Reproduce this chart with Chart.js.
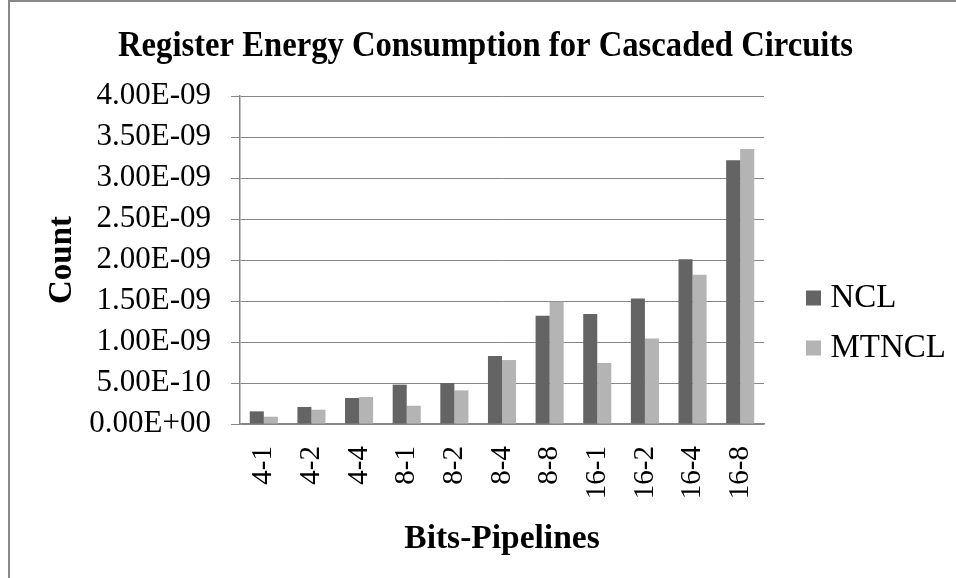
<!DOCTYPE html>
<html>
<head>
<meta charset="utf-8">
<script src="https://cdn.jsdelivr.net/npm/chart.js@4.4.1/dist/chart.umd.min.js"></script>
<style>
  html, body { margin: 0; padding: 0; background: #fff; }
  #wrap { position: relative; width: 956px; height: 578px; overflow: hidden; }
  #frame { position: absolute; left: 8px; top: 0; width: 990px; height: 600px;
           border-left: 2px solid #888; border-top: 2px solid #888; box-sizing: border-box; pointer-events: none; }
  canvas { position: absolute; left: 0; top: 0; }
</style>
</head>
<body>
<div id="wrap">
  <canvas id="chart" width="956" height="578"></canvas>
  <div id="frame"></div>
</div>
<script>
// Bits-Pipelines configurations
const categories = ['4-1', '4-2', '4-4', '8-1', '8-2', '8-4', '8-8', '16-1', '16-2', '16-4', '16-8'];
// Register energy per configuration
const nclValues   = [0.154e-9, 0.207e-9, 0.317e-9, 0.480e-9, 0.500e-9, 0.830e-9, 1.320e-9, 1.340e-9, 1.530e-9, 2.010e-9, 3.215e-9];
const mtnclValues = [0.089e-9, 0.174e-9, 0.329e-9, 0.223e-9, 0.410e-9, 0.780e-9, 1.490e-9, 0.744e-9, 1.044e-9, 1.820e-9, 3.354e-9];
const seriesNames = ['NCL', 'MTNCL'];
const yMin = 0, yMax = 4e-9, yStep = 0.5e-9;

const SERIF = "'Liberation Serif', 'Times New Roman', serif";
const GRID = '#868686';

// Excel-style scientific notation: 3.50E-09, 0.00E+00
function sci(v) {
  if (Math.abs(v) < 1e-20) return '0.00E+00';
  const parts = v.toExponential(2).split('e');
  const e = parseInt(parts[1], 10);
  return parts[0] + 'E' + (e < 0 ? '-' : '+') + String(Math.abs(e)).padStart(2, '0');
}

// Fixed boxes: legend column on the right, title band across the top
const boxLayout = {
  id: 'boxLayout',
  afterInit(chart) {
    const lg = chart.legend;
    const fit = lg.fit.bind(lg);
    lg.fit = function () { fit(); this.width = 192; };
  },
  afterLayout(chart) {
    const lg = chart.legend;
    const pad = lg.options.labels.padding;
    const h = lg.height;
    // first legend row starts at top + pad
    lg.left = 813 - pad; lg.right = lg.left + lg.width;
    lg.top = 281.5 - pad; lg.bottom = lg.top + h;
    const t = chart.titleBlock;
    t.left = 118; t.right = 853;
  }
};

const bg = {
  id: 'bg',
  beforeDraw(chart) {
    const c = chart.ctx;
    c.save(); c.fillStyle = '#fff'; c.fillRect(0, 0, chart.width, chart.height); c.restore();
  }
};

new Chart(document.getElementById('chart'), {
  type: 'bar',
  data: {
    labels: categories,
    datasets: [
      { label: seriesNames[0], data: nclValues, backgroundColor: '#646464', borderWidth: 0 },
      { label: seriesNames[1], data: mtnclValues, backgroundColor: '#b4b4b4', borderWidth: 0 }
    ]
  },
  options: {
    responsive: false,
    animation: false,
    devicePixelRatio: 1,
    layout: { padding: 0 },
    datasets: { bar: { categoryPercentage: 0.59, barPercentage: 1.0 } },
    plugins: {
      title: {
        display: true,
        fullSize: true,
        text: 'Register Energy Consumption for Cascaded Circuits',
        color: '#000',
        font: { family: SERIF, size: 36, weight: 'bold', lineHeight: 1.2 },
        padding: { top: 25.4, bottom: 27.4 }
      },
      legend: {
        display: true,
        position: 'right',
        align: 'start',
        labels: {
          color: '#000',
          font: { family: SERIF, size: 33, lineHeight: 1.2 },
          usePointStyle: true,
          pointStyle: 'rect',
          boxWidth: 1,
          boxHeight: 15,
          padding: 17
        }
      },
      tooltip: { enabled: false }
    },
    scales: {
      x: {
        grid: { display: false, drawTicks: false },
        border: { display: true, color: GRID, width: 1.5 },
        ticks: {
          color: '#000',
          font: { family: SERIF, size: 29 },
          minRotation: 90, maxRotation: 90,
          padding: 22,
          autoSkip: false
        },
        title: {
          display: true,
          text: 'Bits-Pipelines',
          color: '#000',
          font: { family: SERIF, size: 33.5, weight: 'bold', lineHeight: 1.2 },
          padding: { top: 0, bottom: 19 }
        },
        afterFit(scale) { scale.height = 154; }
      },
      y: {
        min: yMin, max: yMax,
        grid: { color: GRID, lineWidth: 1, drawTicks: true, tickLength: 9, tickColor: GRID },
        border: { display: true, color: GRID, width: 1.5 },
        ticks: {
          stepSize: yStep,
          autoSkip: false,
          color: '#000',
          font: { family: SERIF, size: 31 },
          padding: 20,
          callback: (v) => sci(v)
        },
        title: {
          display: true,
          text: 'Count',
          color: '#000',
          font: { family: SERIF, size: 33, weight: 'bold', lineHeight: 1.2 },
          padding: { top: 42.7, bottom: 0 }
        },
        afterFit(scale) { scale.width = 240; }
      }
    }
  },
  plugins: [bg, boxLayout]
});
</script>
</body>
</html>
